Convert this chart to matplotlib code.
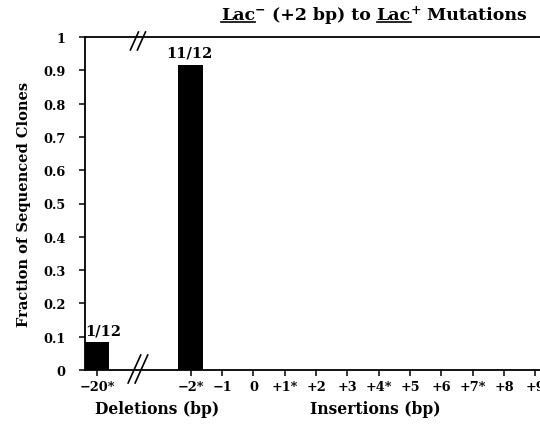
import matplotlib
matplotlib.use('Agg')
import matplotlib.pyplot as plt
from matplotlib.lines import Line2D
from matplotlib.transforms import IdentityTransform

# data
labels = ['\u221220*', '\u22122*', '\u22121', '0', '+1*', '+2', '+3', '+4*', '+5', '+6', '+7*', '+8', '+9']
fractions = [1/12, 11/12, 0, 0, 0, 0, 0, 0, 0, 0, 0, 0, 0]
bar_text = ['1/12', '11/12', '', '', '', '', '', '', '', '', '', '', '']
yticks = [0, 0.1, 0.2, 0.3, 0.4, 0.5, 0.6, 0.7, 0.8, 0.9, 1]
yticklabels = ['0', '0.1', '0.2', '0.3', '0.4', '0.5', '0.6', '0.7', '0.8', '0.9', '1']

plt.rcParams['font.family'] = ['DejaVu Serif']
plt.rcParams['font.weight'] = 'bold'

gap = 3.0
pos = [0] + [gap + i for i in range(len(labels) - 1)]
text_dx = [0.2, -0.05] + [0] * (len(labels) - 2)
break_x = 1.31

fig = plt.figure(figsize=(5.4, 4.27), dpi=100)
ax = fig.add_axes([85/540, 1 - 371/427, 1 - 85/540, 333/427])

ax.bar(pos, fractions, width=0.8, color='black')
for p, v, t, dx in zip(pos, fractions, bar_text, text_dx):
    if t:
        ax.text(p + dx, v + 0.015, t, ha='center', va='bottom', fontsize=10.5, fontweight='bold')

ax.set_xlim(-0.38, 14.15)
ax.set_ylim(0, 1)
ax.set_xticks(pos)
ax.set_xticklabels(labels, fontsize=9.3, fontweight='bold')
ax.set_yticks(yticks)
ax.set_yticklabels(yticklabels, fontsize=9.3, fontweight='bold')
ax.tick_params(axis='both', direction='out', length=4, width=1.1)
ax.tick_params(axis='y', pad=10)
ax.tick_params(axis='x', pad=3)
ax.spines['right'].set_visible(False)
for s in ['left', 'bottom', 'top']:
    ax.spines[s].set_linewidth(1.3)

ax.set_ylabel('Fraction of Sequenced Clones', fontsize=10.5, fontweight='bold', labelpad=9)

fig.text(157/540, 1 - 410/427, 'Deletions (bp)', ha='center', va='center', fontsize=11.2, fontweight='bold')
fig.text(375/540, 1 - 410/427, 'Insertions (bp)', ha='center', va='center', fontsize=11.2, fontweight='bold')

# title built from pieces so "Lac" can be underlined
title_parts = [('Lac', True, False), ('\u2212', False, True), (' (+2 bp) to ', False, False),
               ('Lac', True, False), ('+', False, True), (' Mutations', False, False)]
fig.canvas.draw()
rend = fig.canvas.get_renderer()
H = fig.bbox.height
base_y = H - 20
texts = []
total = 0
for s, ul, sup in title_parts:
    fs = 9 if sup else 12.5
    t = fig.text(0, 0, s, fontsize=fs, fontweight='bold', ha='left', va='baseline',
                 transform=IdentityTransform())
    w = t.get_window_extent(rend).width
    texts.append((t, w, ul, sup))
    total += w
x = 374 - total / 2
for t, w, ul, sup in texts:
    y = base_y + (6 if sup else 0)
    t.set_position((x, y))
    if ul:
        fig.add_artist(Line2D([x, x + w], [base_y - 3, base_y - 3], color='black', lw=1.2,
                              transform=IdentityTransform()))
    x += w

# axis break marks "//"
bx = ax.transData.transform((break_x, 0))[0]
for yc, half in [(H - 370, 14), (H - 42, 9)]:
    for off in (-3.5, 3.5):
        x0 = bx + off - half * 0.45
        x1 = bx + off + half * 0.45
        fig.add_artist(Line2D([x0, x1], [yc - half, yc + half], color='black', lw=1.2,
                              transform=IdentityTransform()))

fig.savefig('out.png', dpi=100)
